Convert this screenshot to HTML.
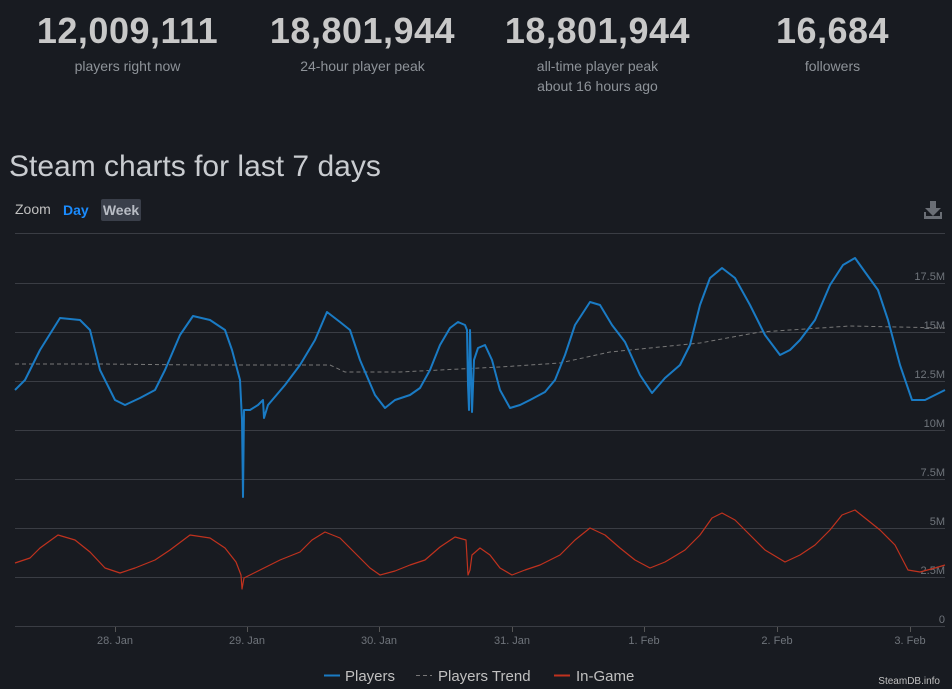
<!DOCTYPE html>
<html><head><meta charset="utf-8"><style>
body{margin:0;width:952px;height:689px;background:#181b21;font-family:"Liberation Sans",sans-serif;overflow:hidden;position:relative;color:#c9c9c9}
.st{position:absolute;top:10px;width:235px;text-align:center}
.st b{display:block;font-size:36px;color:#c8c8c8;letter-spacing:0.5px}
.st span{display:block;font-size:14px;color:#8e9399;line-height:20px;margin-top:4px}
</style></head><body>
<div class="st" style="left:10px"><b>12,009,111</b><span>players right now</span></div>
<div class="st" style="left:245px"><b>18,801,944</b><span>24-hour player peak</span></div>
<div class="st" style="left:480px"><b>18,801,944</b><span>all-time player peak<br>about 16 hours ago</span></div>
<div class="st" style="left:715px"><b>16,684</b><span>followers</span></div>
<div style="position:absolute;left:9px;top:150px;font-size:30px;color:#c9ccd0">Steam charts for last 7 days</div>
<div style="position:absolute;left:15px;top:201px;font-size:14px;color:#c0c0c0">Zoom</div>
<div style="position:absolute;left:63px;top:202px;font-size:14px;color:#1a8cff;font-weight:bold">Day</div>
<div style="position:absolute;left:101px;top:199px;width:40px;height:22px;background:#3a3f4a;border-radius:2px;font-size:14px;font-weight:bold;color:#b8bcc4;text-align:center;line-height:22px">Week</div>
<svg style="position:absolute;left:0;top:0" width="952" height="689">
<g fill="#6a6e75"><rect x="930" y="201" width="6" height="8"/><polygon points="925,208 941,208 933,216"/><rect x="924" y="216" width="18" height="3"/><rect x="924" y="212" width="2" height="6"/><rect x="940" y="212" width="2" height="6"/></g>
<g stroke="#3a3d44" stroke-width="1">
<line x1="15" y1="233.5" x2="945" y2="233.5"/><line x1="15" y1="283.5" x2="945" y2="283.5"/><line x1="15" y1="332.5" x2="945" y2="332.5"/><line x1="15" y1="381.5" x2="945" y2="381.5"/><line x1="15" y1="430.5" x2="945" y2="430.5"/><line x1="15" y1="479.5" x2="945" y2="479.5"/><line x1="15" y1="528.5" x2="945" y2="528.5"/><line x1="15" y1="577.5" x2="945" y2="577.5"/><line x1="15" y1="626.5" x2="945" y2="626.5"/>
</g>
<g stroke="#555" ><line x1="115.5" y1="627" x2="115.5" y2="632"/><line x1="247.5" y1="627" x2="247.5" y2="632"/><line x1="379.5" y1="627" x2="379.5" y2="632"/><line x1="512.5" y1="627" x2="512.5" y2="632"/><line x1="644.5" y1="627" x2="644.5" y2="632"/><line x1="777.5" y1="627" x2="777.5" y2="632"/><line x1="910.5" y1="627" x2="910.5" y2="632"/></g>
<g fill="#6f747b" font-size="11" text-anchor="end">
<text x="945" y="280">17.5M</text><text x="945" y="329">15M</text><text x="945" y="378">12.5M</text><text x="945" y="427">10M</text><text x="945" y="476">7.5M</text><text x="945" y="525">5M</text><text x="945" y="574">2.5M</text><text x="945" y="623">0</text>
</g>
<g fill="#6f747b" font-size="11" text-anchor="middle">
<text x="115" y="644">28. Jan</text><text x="247" y="644">29. Jan</text><text x="379" y="644">30. Jan</text><text x="512" y="644">31. Jan</text><text x="644" y="644">1. Feb</text><text x="777" y="644">2. Feb</text><text x="910" y="644">3. Feb</text>
</g>
<polyline fill="none" stroke="#777" stroke-width="1" stroke-dasharray="4,3" points="15,364 100,364 200,365 330,365 345,372 400,372 500,367 560,363 610,352 700,343 760,332 850,326 945,328"/>
<polyline fill="none" stroke="#c0321e" stroke-width="1.2" stroke-linejoin="round" points="15,563 30,558 40,548 58,535 75,540 90,552 105,568 120,573 135,568 155,560 170,550 190,535 210,538 225,548 236,562 241,575 242,589 244,578 260,570 280,560 300,552 312,540 325,532 340,538 355,553 370,568 380,575 395,571 410,565 425,560 440,547 455,537 466,540 468,575 470,570 472,555 480,548 490,555 500,568 512,575 525,570 540,565 560,555 575,540 590,528 605,535 620,548 635,560 650,568 665,562 685,550 700,535 712,518 722,513 735,520 750,535 765,550 785,562 800,555 815,545 830,530 842,515 855,510 865,518 880,530 895,545 908,570 920,572 935,568 945,565"/>
<polyline fill="none" stroke="#1a7bc4" stroke-width="2" stroke-linejoin="round" points="15,390 25,380 40,350 60,318 80,320 90,330 100,370 115,400 125,405 140,398 155,390 165,370 180,335 193,316 210,320 225,330 232,350 240,380 242,420 243,497 244,410 250,410 258,405 263,400 264,418 268,405 285,385 300,365 315,340 327,312 340,322 350,330 360,360 375,395 385,408 395,400 410,395 420,388 430,370 440,345 450,328 458,322 465,325 467,330 468,385 469,410 470,330 472,412 474,360 478,348 485,345 492,360 500,390 510,408 520,405 530,400 545,392 555,380 565,355 575,325 590,302 600,305 612,325 625,342 640,375 652,393 665,378 680,365 690,345 700,305 710,278 722,268 735,278 750,305 765,335 780,355 790,350 800,340 815,320 830,285 843,265 855,258 865,272 878,290 888,320 900,365 912,400 925,400 945,390"/>
<g font-size="15" fill="#c0c0c0">
<line x1="324" y1="675.5" x2="340" y2="675.5" stroke="#1a7bc4" stroke-width="2"/><text x="345" y="681">Players</text>
<line x1="416" y1="675.5" x2="432" y2="675.5" stroke="#777" stroke-dasharray="4,3"/><text x="438" y="681">Players Trend</text>
<line x1="554" y1="675.5" x2="570" y2="675.5" stroke="#c0321e" stroke-width="2"/><text x="576" y="681">In-Game</text>
</g>
<text x="940" y="684" font-size="10" fill="#c0c0c0" text-anchor="end">SteamDB.info</text>
</svg>
</body></html>
